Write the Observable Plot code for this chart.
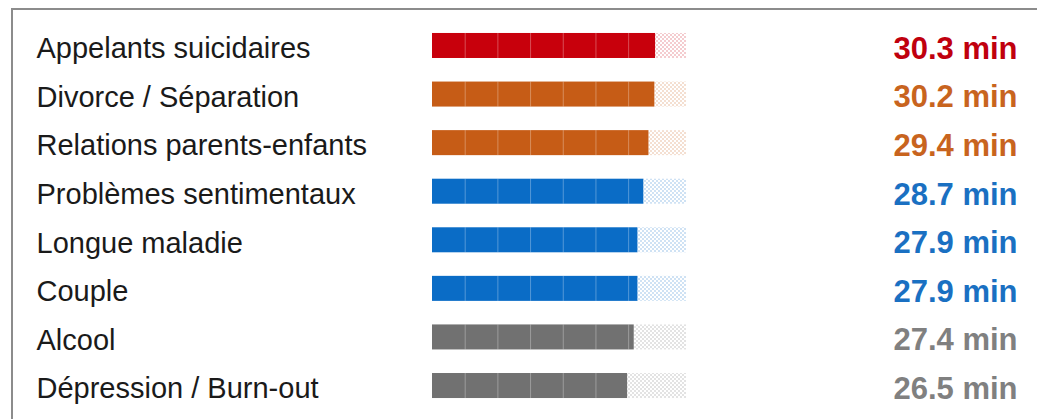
<!DOCTYPE html>
<html>
<head>
<meta charset="utf-8">
<script src="https://cdn.jsdelivr.net/npm/d3@7"></script>
<script src="https://cdn.jsdelivr.net/npm/@observablehq/plot@0.6"></script>
<style>
  html, body { margin: 0; padding: 0; background: #fff; }
  #wrap { position: relative; width: 1037px; height: 419px; overflow: hidden; }
  #frame { position: absolute; left: 11px; top: 8px; width: 1040px; height: 420px;
           border-top: 2px solid #8c8c8c; border-left: 2px solid #8c8c8c; box-sizing: border-box; }
  #chart { position: absolute; left: 0; top: 0; }
</style>
</head>
<body>
<div id="wrap"><div id="frame"></div><div id="chart"></div></div>
<script>
const categories = [
  "Appelants suicidaires",
  "Divorce / Séparation",
  "Relations parents-enfants",
  "Problèmes sentimentaux",
  "Longue maladie",
  "Couple",
  "Alcool",
  "Dépression / Burn-out"
];
const values = [30.3, 30.2, 29.4, 28.7, 27.9, 27.9, 27.4, 26.5];
const valueLabels = ["30.3 min", "30.2 min", "29.4 min", "28.7 min", "27.9 min", "27.9 min", "27.4 min", "26.5 min"];
const groups = ["red", "orange", "orange", "blue", "blue", "blue", "gray", "gray"];
const trackMax = 34.5;
const segmentTicks = [4.44, 8.88, 13.32, 17.76, 22.2, 26.64, 31.08];

const barColors = { red: "#c8000c", orange: "#c65c16", blue: "#0a6cc6", gray: "#717171" };
const textColors = { red: "#c0000e", orange: "#c8641e", blue: "#1a70c2", gray: "#808080" };

const data = categories.map((c, i) => ({ label: c, value: values[i], group: groups[i], valueLabel: valueLabels[i] }));
const seps = data.flatMap(d => segmentTicks.filter(t => t < d.value).map(t => ({ label: d.label, x: t })));

const chart = Plot.plot({
  width: 1037,
  height: 419,
  marginLeft: 36,
  marginRight: 20,
  marginTop: 18.4,
  marginBottom: 6.4,
  x: { domain: [0, trackMax], range: [432, 686], axis: null },
  y: { domain: categories, axis: null, paddingInner: 0.485, paddingOuter: 0.3, round: false },
  color: { type: "identity" },
  style: { fontFamily: "'Liberation Sans', Arial, sans-serif", background: "transparent", overflow: "visible" },
  marks: [
    Plot.barX(data, { y: "label", x1: "value", x2: trackMax, fill: d => `url(#dots-${d.group})` }),
    Plot.barX(data, { y: "label", x1: 0, x2: "value", fill: d => barColors[d.group] }),
    Plot.tickX(seps, { x: "x", y: "label", stroke: "white", strokeOpacity: 0.3, strokeWidth: 1 }),
    Plot.text(data, { y: "label", text: "label", frameAnchor: "left", textAnchor: "start", fontSize: 29, dy: 3, fill: "#1a1a1a" }),
    Plot.text(data, { y: "label", text: "valueLabel", frameAnchor: "right", textAnchor: "end", fontSize: 31, dy: 3, fontWeight: "bold", fill: d => textColors[d.group] })
  ]
});

// dotted patterns for the remaining track
const ns = "http://www.w3.org/2000/svg";
const defs = document.createElementNS(ns, "defs");
for (const g of Object.keys(barColors)) {
  const p = document.createElementNS(ns, "pattern");
  p.setAttribute("id", `dots-${g}`);
  p.setAttribute("patternUnits", "userSpaceOnUse");
  p.setAttribute("width", "4");
  p.setAttribute("height", "4");
  for (const [cx, cy] of [[1, 1], [3, 3]]) {
    const r = document.createElementNS(ns, "rect");
    r.setAttribute("x", cx - 0.6);
    r.setAttribute("y", cy - 0.6);
    r.setAttribute("width", 1.2);
    r.setAttribute("height", 1.2);
    r.setAttribute("fill", barColors[g]);
    r.setAttribute("fill-opacity", "0.55");
    p.appendChild(r);
  }
  defs.appendChild(p);
}
chart.insertBefore(defs, chart.firstChild);
document.getElementById("chart").appendChild(chart);
</script>
</body>
</html>
